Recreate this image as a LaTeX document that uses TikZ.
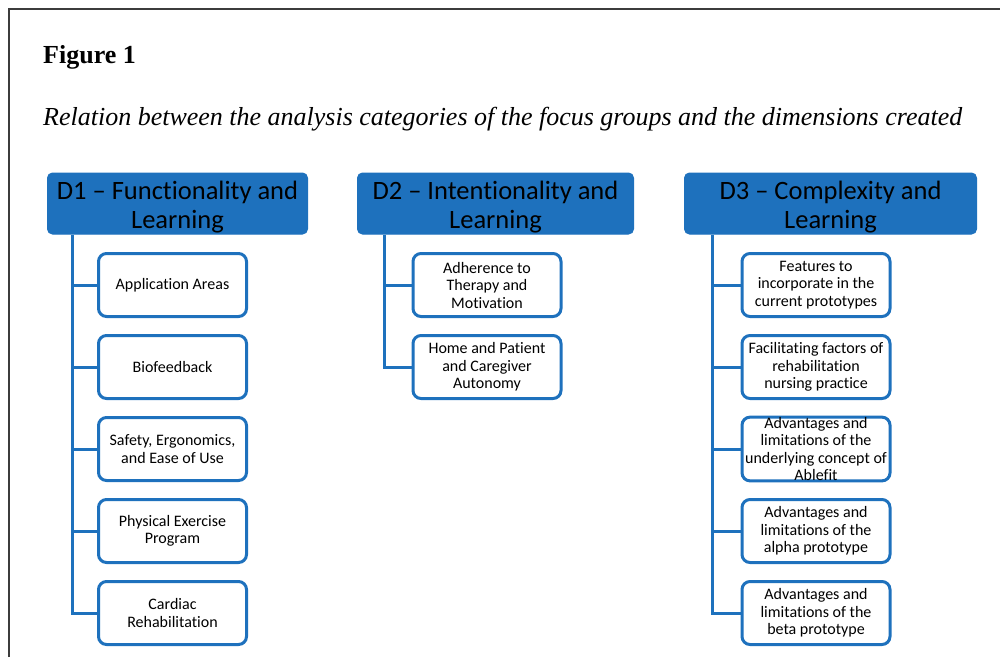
\documentclass[tikz,border=0pt]{standalone}
\usepackage{fontspec}
\newfontfamily\calib[Ligatures={TeX,NoCommon}]{Carlito}
\newfontfamily\capserif[Ligatures=TeX]{Liberation Serif}
\usetikzlibrary{calc}
\definecolor{dimblue}{RGB}{30,113,189}
\definecolor{framegray}{RGB}{60,60,60}
\newcommand{\headstrut}{\rule{0pt}{26pt}}
\tikzset{
  dimhead/.style={rectangle, rounded corners=5pt, fill=dimblue, draw=dimblue, line width=1pt,
    minimum height=61pt, inner sep=0pt, align=center, text=black,
    font=\calib\fontsize{26.5}{29}\selectfont},
  catbox/.style={rectangle, rounded corners=8pt, fill=white, draw=dimblue, line width=3pt,
    minimum width=148pt, minimum height=63pt, inner sep=0pt, align=center, text=black,
    font=\calib\fontsize{16}{17.5}\selectfont},
  trunk/.style={draw=dimblue, line width=3pt},
}
\begin{document}
\begin{tikzpicture}[x=1pt,y=-1pt]
\useasboundingbox (0,0) rectangle (1000,657);
% outer frame (open to the right and bottom)
\draw[framegray, line width=1.5pt] (9,657) -- (9,9) -- (1000,9);

% heading and caption
\node[anchor=base west, inner sep=0pt, font=\capserif\bfseries\fontsize{26}{30}\selectfont] (fig) at (43,63) {Figure 1};
\node[anchor=base west, inner sep=0pt] (cap) at (43,125)
  {\resizebox{919pt}{!}{\capserif\itshape\fontsize{26}{30}\selectfont Relation between the analysis categories of the focus groups and the dimensions created}};

% dimension headers
\node[dimhead, minimum width=260pt] (h1) at (177.5,203.5) {\headstrut D1 – Functionality and\\Learning};
\node[dimhead, minimum width=276pt] (h2) at (495.5,203.5) {\headstrut D2 – Intentionality and\\Learning};
\node[dimhead, minimum width=292pt] (h3) at (830.5,203.5) {\headstrut D3 – Complexity and\\Learning};

% D1 categories
\node[catbox] (a1) at (172.5,285) {Application Areas};
\node[catbox] (a2) at (172.5,367) {Biofeedback};
\node[catbox] (a3) at (172.5,449) {Safety, Ergonomics,\\and Ease of Use};
\node[catbox] (a4) at (172.5,531) {Physical Exercise\\Program};
\node[catbox] (a5) at (172.5,613) {Cardiac\\Rehabilitation};

% D2 categories
\node[catbox] (b1) at (487,285) {Adherence to\\Therapy and\\Motivation};
\node[catbox] (b2) at (487,367) {Home and Patient\\and Caregiver\\Autonomy};

% D3 categories
\node[catbox] (c1) at (816,285) {Features to\\incorporate in the\\current prototypes};
\node[catbox] (c2) at (816,367) {Facilitating factors of\\rehabilitation\\nursing practice};
\node[catbox] (c3) at (816,449) {Advantages and\\limitations of the\\underlying concept of\\Ablefit};
\node[catbox] (c4) at (816,531) {Advantages and\\limitations of the\\alpha prototype};
\node[catbox] (c5) at (816,613) {Advantages and\\limitations of the\\beta prototype};

% tree connectors
\coordinate (t1) at ([xshift=25pt]h1.south west);
\coordinate (t2) at ([xshift=27pt]h2.south west);
\coordinate (t3) at ([xshift=28pt]h3.south west);

\draw[trunk] (t1) |- (a5.west);
\foreach \n in {a1,a2,a3,a4} \draw[trunk] (t1 |- \n.west) -- (\n.west);

\draw[trunk] (t2) |- (b2.west);
\draw[trunk] (t2 |- b1.west) -- (b1.west);

\draw[trunk] (t3) |- (c5.west);
\foreach \n in {c1,c2,c3,c4} \draw[trunk] (t3 |- \n.west) -- (\n.west);
\end{tikzpicture}
\end{document}
